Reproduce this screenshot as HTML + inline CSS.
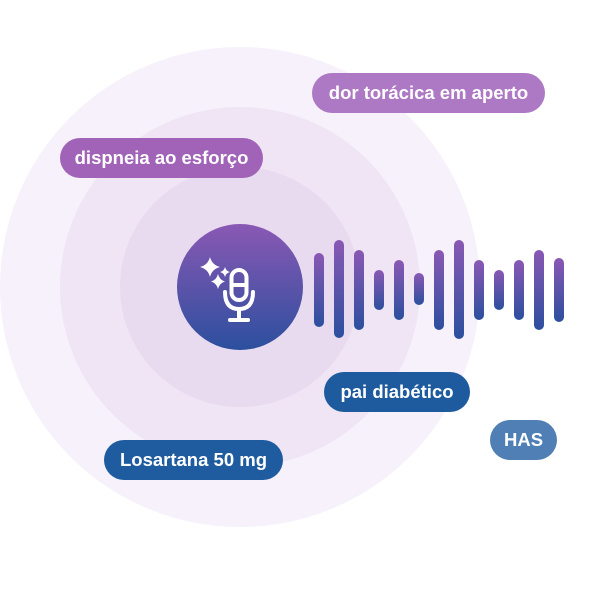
<!DOCTYPE html>
<html><head><meta charset="utf-8"><style>
body{margin:0;width:600px;height:600px;background:#fff;position:relative;overflow:hidden;font-family:"Liberation Sans","DejaVu Sans",sans-serif}
.c{position:absolute;border-radius:50%}
.p{position:absolute;height:40px;border-radius:20px;color:#fff;font-weight:bold;font-size:18.5px;line-height:40px;text-align:center}
.b{position:absolute;width:10px;border-radius:5px;background:linear-gradient(#8a58b4,#2c4f9e)}
</style></head><body>
<div class="c" style="left:0;top:47px;width:480px;height:480px;background:#f6f1fa"></div>
<div class="c" style="left:60px;top:107px;width:360px;height:360px;background:#efe5f5"></div>
<div class="c" style="left:120px;top:167px;width:240px;height:240px;background:#e8dbf0"></div>
<div class="c" style="left:177px;top:224px;width:126px;height:126px;background:linear-gradient(#8a58b4,#2c4f9e)"></div>
<svg style="position:absolute;left:195px;top:252px" width="80" height="80" viewBox="0 0 80 80">
<path d="M15 5 Q17 13 25 15 Q17 17 15 25 Q13 17 5 15 Q13 13 15 5Z" fill="#fff"/>
<path d="M30 15 Q31 19 35 20 Q31 21 30 25 Q29 21 25 20 Q29 19 30 15Z" fill="#fff"/>
<path d="M23 22 Q24.5 28 30 29.5 Q24.5 31 23 37 Q21.5 31 16 29.5 Q21.5 28 23 22Z" fill="#fff"/>
<rect x="36.5" y="18" width="15" height="30" rx="7.5" fill="none" stroke="#fff" stroke-width="4"/>
<line x1="36" y1="33" x2="52" y2="33" stroke="#fff" stroke-width="4"/>
<path d="M30 40 Q30 57 44 57 Q58 57 58 40" fill="none" stroke="#fff" stroke-width="4" stroke-linecap="round"/>
<line x1="44" y1="57" x2="44" y2="67" stroke="#fff" stroke-width="4"/>
<line x1="35" y1="68" x2="53" y2="68" stroke="#fff" stroke-width="4" stroke-linecap="round"/>
</svg>
<div class="b" style="left:314px;top:253px;height:74px"></div>
<div class="b" style="left:334px;top:240px;height:98px"></div>
<div class="b" style="left:354px;top:250px;height:80px"></div>
<div class="b" style="left:374px;top:270px;height:40px"></div>
<div class="b" style="left:394px;top:260px;height:60px"></div>
<div class="b" style="left:414px;top:273px;height:32px"></div>
<div class="b" style="left:434px;top:250px;height:80px"></div>
<div class="b" style="left:454px;top:240px;height:99px"></div>
<div class="b" style="left:474px;top:260px;height:60px"></div>
<div class="b" style="left:494px;top:270px;height:40px"></div>
<div class="b" style="left:514px;top:260px;height:60px"></div>
<div class="b" style="left:534px;top:250px;height:80px"></div>
<div class="b" style="left:554px;top:258px;height:64px"></div>
<div class="p" style="left:312px;top:73px;width:233px;background:#ad78c4">dor torácica em aperto</div>
<div class="p" style="left:60px;top:138px;width:203px;background:#a063b8">dispneia ao esforço</div>
<div class="p" style="left:324px;top:372px;width:146px;background:#1e5a9e">pai diabético</div>
<div class="p" style="left:490px;top:420px;width:67px;background:#4f7fb5">HAS</div>
<div class="p" style="left:104px;top:440px;width:179px;background:#1f5c9f">Losartana 50 mg</div>
</body></html>
